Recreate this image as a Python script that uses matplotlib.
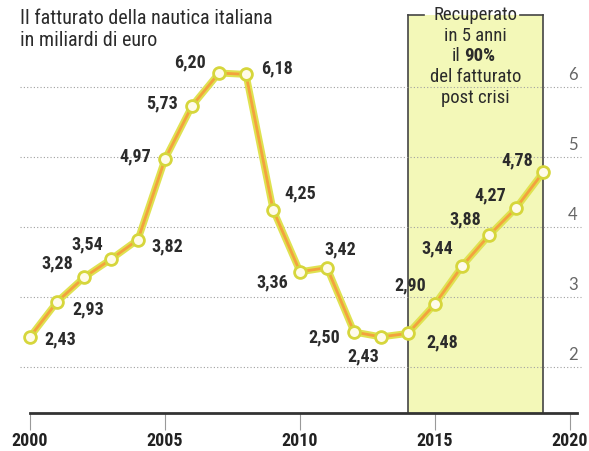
import matplotlib
matplotlib.use("Agg")
import matplotlib.pyplot as plt
from matplotlib import font_manager
from matplotlib.patches import Rectangle

# Fatturato della nautica italiana, miliardi di euro
years = list(range(2000, 2020))
values = [2.43, 2.93, 3.28, 3.54, 3.82, 4.97, 5.73, 6.20, 6.18, 4.25,
          3.36, 3.42, 2.50, 2.43, 2.48, 2.90, 3.44, 3.88, 4.27, 4.78]
# label offsets (pixels) relative to each point
label_dx = [30, 31, -27, -24, 29, -30, -30, -29, 31, 27,
            -28, 13, -30, -18, 34, -25, -25, -24, -26, -26]
label_dy = [-3, -8, 14, 15, -7, 3, 2, 11, 6, 16,
            -11, 18, -5, -20, -9, 19, 18, 16, 13, 12]
xticks = [2000, 2005, 2010, 2015, 2020]
yticks = [2, 3, 4, 5, 6]
box_years = (2014, 2019)
box_lines = ["Recuperato", "in 5 anni", None, "del fatturato", "post crisi"]

installed = {f.name for f in font_manager.fontManager.ttflist}
narrow = next((n for n in ["Liberation Sans Narrow", "Roboto Condensed",
                           "Open Sans Condensed", "Roboto"] if n in installed),
              "DejaVu Sans")
plt.rcParams["font.family"] = [narrow, "DejaVu Sans"]

fig = plt.figure(figsize=(5.89, 4.51), dpi=100)
ax = fig.add_axes([0, 38 / 451, 1, 413 / 451])
ax.set_xlim(2000 - 30 / 27, 2000 + 559 / 27)
ax.set_ylim(2 - 46 / 70, 2 + 367 / 70)

# highlighted period
ytop = 7.03
ybot = ax.get_ylim()[0]
ax.add_patch(Rectangle((box_years[0], ybot), box_years[1] - box_years[0],
                       ytop - ybot, facecolor="#f3f8b8", edgecolor="none",
                       zorder=0))
ax.plot([box_years[0], box_years[0]], [ybot, ytop], color="#444", lw=1.2, zorder=1)
ax.plot([box_years[1], box_years[1]], [ybot, ytop], color="#444", lw=1.2, zorder=1)
ax.plot([box_years[0], 2014.6], [ytop, ytop], color="#444", lw=1.2, zorder=1)
ax.plot([2018.15, box_years[1]], [ytop, ytop], color="#444", lw=1.2, zorder=1)

cx = (box_years[0] + box_years[1]) / 2
line_y = [7.03, 6.73, 6.44, 6.14, 5.84]
for txt, yy in zip(box_lines, line_y):
    if txt:
        ax.text(cx, yy, txt, ha="center", va="center", fontsize=13.5,
                color="#2b2b2b", zorder=5)
ax.text(2015.96, line_y[2], "il", ha="right", va="center", fontsize=13.5,
        color="#2b2b2b", zorder=5)
ax.text(2016.07, line_y[2], "90%", ha="left", va="center", fontsize=13.5,
        color="#2b2b2b", fontweight="bold", zorder=5)

# dotted gridlines with labels on the right
for t in yticks:
    ax.plot([1999.63, 2020.41], [t, t], color="#a0a0a0", lw=0.8,
            linestyle=(0, (1, 2)), zorder=1)
    ax.text(2020.1, t + 0.17, str(t), ha="center", va="center",
            fontsize=12, color="#666666", family=["Lato", "DejaVu Sans"])

# the series
ax.plot(years, values, color="#dfe250", lw=5, solid_capstyle="round", zorder=3)
ax.plot(years, values, color="#f3a23e", lw=2, zorder=3)
ax.plot(years, values, linestyle="none", marker="o", markersize=8.5,
        markerfacecolor="#fffbea", markeredgecolor="#d6d63c",
        markeredgewidth=2, zorder=4)

for x, v, dx, dy in zip(years, values, label_dx, label_dy):
    ax.annotate(f"{v:.2f}".replace(".", ","), (x, v), xytext=(dx, dy),
                textcoords="offset pixels", ha="center", va="center",
                fontsize=13, fontweight="bold", color="#2b2b2b", zorder=6)

# axis
for s in ["top", "right", "left"]:
    ax.spines[s].set_visible(False)
ax.spines["bottom"].set_bounds(2000, 2020.25)
ax.spines["bottom"].set_linewidth(2)
ax.spines["bottom"].set_color("#333")
ax.set_yticks([])
ax.set_xticks(xticks)
ax.set_xticklabels([str(t) for t in xticks], fontsize=13, fontweight="bold",
                   color="#222")
ax.tick_params(axis="x", direction="out", length=12, width=0.8,
               color="#999", pad=2)

fig.text(20 / 589, 1 - 19 / 451, "Il fatturato della nautica italiana",
         ha="left", va="center", fontsize=14.5, color="#2b2b2b")
fig.text(20 / 589, 1 - 40 / 451, "in miliardi di euro",
         ha="left", va="center", fontsize=14.5, color="#2b2b2b")

fig.savefig("out.png", dpi=100)
